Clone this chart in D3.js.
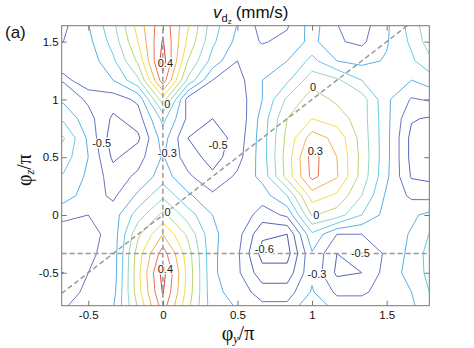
<!DOCTYPE html>
<html><head><meta charset="utf-8">
<script src="https://cdn.jsdelivr.net/npm/d3@7"></script>
<style>body{margin:0;background:#fff;} svg{display:block;}</style>
</head><body>
<svg id="chart" width="474" height="348"></svg>
<script>
// grid columns (phi_y / pi) and rows (phi_z / pi, top to bottom)
const phiY = [-0.8333,-0.6667,-0.5,-0.3333,-0.1667,0,0.1667,0.3333,0.5,0.6667,0.8333,1,1.1667,1.3333,1.5,1.6667,1.8333];
const phiZ = [1.6667,1.5,1.3333,1.1667,1,0.8333,0.6667,0.5,0.3333,0.1667,0,-0.1667,-0.3333,-0.5,-0.6667,-0.8333];
// v_dz (mm/s), one row per phiZ value
const vdz = [
 [-0.45,-0.43,-0.30,-0.12,0.15,0.37,0.12,-0.15,-0.30,-0.45,-0.42,-0.25,-0.40,-0.45,-0.32,-0.15,0.02],
 [-0.42,-0.40,-0.33,-0.16,0.10,0.41,0.08,-0.18,-0.33,-0.41,-0.37,-0.27,-0.39,-0.42,-0.31,-0.18,0.00],
 [-0.39,-0.38,-0.36,-0.22,0.02,0.45,0.00,-0.24,-0.40,-0.33,-0.30,-0.17,-0.30,-0.33,-0.29,-0.22,-0.08],
 [-0.42,-0.41,-0.38,-0.30,-0.12,0.36,-0.12,-0.40,-0.44,-0.30,-0.22,-0.04,-0.08,-0.20,-0.27,-0.30,-0.22],
 [-0.30,-0.32,-0.42,-0.45,-0.38,0.06,-0.44,-0.48,-0.46,-0.30,-0.08,0.05,-0.02,-0.05,-0.28,-0.41,-0.38],
 [-0.20,-0.22,-0.36,-0.52,-0.45,-0.17,-0.42,-0.50,-0.48,-0.26,0.00,0.10,0.05,-0.05,-0.27,-0.49,-0.52],
 [-0.04,-0.09,-0.32,-0.56,-0.52,-0.25,-0.50,-0.56,-0.46,-0.25,0.03,0.25,0.17,-0.04,-0.27,-0.53,-0.56],
 [-0.12,-0.15,-0.30,-0.52,-0.44,-0.29,-0.45,-0.54,-0.44,-0.25,0.05,0.34,0.20,-0.03,-0.27,-0.53,-0.56],
 [-0.20,-0.21,-0.32,-0.45,-0.38,-0.25,-0.38,-0.48,-0.38,-0.27,0.04,0.33,0.21,-0.04,-0.28,-0.51,-0.53],
 [-0.22,-0.25,-0.35,-0.42,-0.28,-0.12,-0.28,-0.38,-0.33,-0.35,-0.20,0.15,0.08,-0.10,-0.32,-0.42,-0.44],
 [-0.40,-0.38,-0.40,-0.35,-0.15,0.03,-0.15,-0.30,-0.32,-0.45,-0.38,0.01,-0.05,-0.20,-0.34,-0.32,-0.25],
 [-0.45,-0.44,-0.44,-0.36,-0.02,0.20,-0.02,-0.28,-0.36,-0.58,-0.60,-0.22,-0.40,-0.40,-0.36,-0.29,-0.16],
 [-0.46,-0.45,-0.42,-0.36,0.05,0.35,0.05,-0.28,-0.38,-0.64,-0.64,-0.31,-0.50,-0.50,-0.38,-0.27,-0.12],
 [-0.52,-0.50,-0.40,-0.36,0.07,0.44,0.07,-0.28,-0.38,-0.56,-0.56,-0.32,-0.52,-0.50,-0.36,-0.26,-0.14],
 [-0.45,-0.44,-0.38,-0.34,0.06,0.41,0.06,-0.27,-0.34,-0.45,-0.45,-0.29,-0.42,-0.42,-0.35,-0.30,-0.16],
 [-0.40,-0.40,-0.36,-0.30,0.00,0.33,0.02,-0.25,-0.30,-0.35,-0.35,-0.17,-0.32,-0.32,-0.33,-0.33,-0.18]
];
const levels = [-0.6,-0.5,-0.4,-0.3,-0.2,-0.1,0,0.1,0.2,0.3,0.4];
const levelColors = ["#4e5aa8","#5565b5","#6474c2","#58aee6","#66cbe0","#93d6c0","#b8d672","#f0de48","#f4b04a","#ee7055","#d8403f"];
const xTicks = [-0.5,0,0.5,1,1.5];
const yTicks = [-0.5,0,0.5,1,1.5];
const contourLabels = [
 {t:"0.4",x:0.017,y:1.319},{t:"0",x:0.03,y:0.96},{t:"-0.5",x:-0.41,y:0.626},
 {t:"-0.3",x:0.03,y:0.54},{t:"-0.5",x:0.37,y:0.606},{t:"0",x:1.007,y:1.11},
 {t:"0.3",x:1.022,y:0.554},{t:"0",x:0.032,y:0.029},{t:"0.4",x:0.017,y:-0.468},
 {t:"0",x:1.029,y:0.0},{t:"-0.6",x:0.68,y:-0.297},{t:"-0.5",x:1.324,y:-0.332},
 {t:"-0.3",x:1.033,y:-0.51}
];
const guideZ = -1/3;   // horizontal dashed line
const xDomain = [-0.678, 1.786];
const yDomain = [-0.785, 1.638];

const svg = d3.select("#chart");
const L = 61.7, R = 429.3, T = 25.7, B = 305.7;
const x = d3.scaleLinear().domain(xDomain).range([L, R]);
const y = d3.scaleLinear().domain(yDomain).range([B, T]);

const n = phiY.length, m = phiZ.length;
const gx = d3.scaleLinear().domain([0.5, n - 0.5]).range([phiY[0], phiY[n-1]]);
const gy = d3.scaleLinear().domain([0.5, m - 0.5]).range([phiZ[0], phiZ[m-1]]);
const proj = d3.geoTransform({point(px, py){ this.stream.point(x(gx(px)), y(gy(py))); }});
const path = d3.geoPath(proj);

svg.append("defs").append("clipPath").attr("id","clip")
  .append("rect").attr("x",L).attr("y",T).attr("width",R-L).attr("height",B-T);

const contours = d3.contours().size([n, m]).thresholds(levels)(vdz.flat());
const color = d3.scaleOrdinal().domain(levels).range(levelColors);

const g = svg.append("g").attr("clip-path","url(#clip)");
g.selectAll("path.c").data(contours).join("path")
  .attr("class","c").attr("d", path)
  .attr("fill","none").attr("stroke", d => color(d.value))
  .attr("stroke-width", 1).attr("stroke-linejoin","round");

// dashed guides
const dash = "5,3";
g.append("line").attr("x1",x(0)).attr("x2",x(0)).attr("y1",y(yDomain[0])).attr("y2",y(yDomain[1]))
  .attr("stroke","#9a9a9a").attr("stroke-width",1.5).attr("stroke-dasharray",dash);
g.append("line").attr("x1",x(xDomain[0])).attr("x2",x(xDomain[1])).attr("y1",y(guideZ)).attr("y2",y(guideZ))
  .attr("stroke","#9a9a9a").attr("stroke-width",1.5).attr("stroke-dasharray",dash);
g.append("line").attr("x1",x(xDomain[0])).attr("y1",y(xDomain[0])).attr("x2",x(yDomain[1])).attr("y2",y(yDomain[1]))
  .attr("stroke","#9a9a9a").attr("stroke-width",1.5).attr("stroke-dasharray",dash);

// contour labels
svg.append("g").selectAll("text").data(contourLabels).join("text")
  .attr("x", d => x(d.x)).attr("y", d => y(d.y))
  .attr("text-anchor","middle").attr("dominant-baseline","central")
  .attr("font-family","Liberation Sans, Arial, sans-serif").attr("font-size",11)
  .attr("fill","#222").attr("stroke","#fff").attr("stroke-width",2.5)
  .attr("paint-order","stroke").text(d => d.t);

// axes with inward ticks
const fmt = d => String(d);
const axStyle = sel => {
  sel.select(".domain").remove();
  sel.selectAll(".tick line").attr("stroke","#777");
  sel.selectAll(".tick text").attr("font-family","Liberation Sans, Arial, sans-serif").attr("font-size",11.5).attr("fill","#111");
};
svg.append("g").attr("transform",`translate(0,${B})`)
  .call(d3.axisBottom(x).tickValues(xTicks).tickFormat(fmt).tickSize(-5).tickPadding(5)).call(axStyle);
svg.append("g").attr("transform",`translate(0,${T})`)
  .call(d3.axisTop(x).tickValues(xTicks).tickFormat("").tickSize(-5)).call(axStyle);
svg.append("g").attr("transform",`translate(${L},0)`)
  .call(d3.axisLeft(y).tickValues(yTicks).tickFormat(fmt).tickSize(-5).tickPadding(3)).call(axStyle);
svg.append("g").attr("transform",`translate(${R},0)`)
  .call(d3.axisRight(y).tickValues(yTicks).tickFormat("").tickSize(-5)).call(axStyle);

svg.append("rect").attr("x",L).attr("y",T).attr("width",R-L).attr("height",B-T)
  .attr("fill","none").attr("stroke","#777").attr("stroke-width",1);

// title
const title = svg.append("text").attr("x",213).attr("y",17.5)
  .attr("font-family","Liberation Sans, Arial, sans-serif").attr("font-size",17).attr("fill","#111");
title.append("tspan").attr("font-style","italic").text("v");
title.append("tspan").attr("font-size",11).attr("dy",4).text("d");
title.append("tspan").attr("font-size",8).attr("dy",2.5).text("z");
title.append("tspan").attr("font-size",17).attr("dy",-6.5).attr("dx",4).text("(mm/s)");

svg.append("text").attr("x",5).attr("y",38)
  .attr("font-family","Liberation Sans, Arial, sans-serif").attr("font-size",17).attr("fill","#111").text("(a)");

// axis labels
const xl = svg.append("text").attr("x",238).attr("y",340).attr("text-anchor","middle")
  .attr("font-family","Liberation Serif, Times New Roman, serif").attr("font-size",20).attr("fill","#111");
xl.append("tspan").text("φ");
xl.append("tspan").attr("font-size",12).attr("font-style","italic").attr("dy",3).text("y");
xl.append("tspan").attr("dy",-3).text("/π");

const yl = svg.append("text").attr("transform","translate(31,170) rotate(-90)").attr("text-anchor","middle")
  .attr("font-family","Liberation Serif, Times New Roman, serif").attr("font-size",20).attr("fill","#111");
yl.append("tspan").text("φ");
yl.append("tspan").attr("font-size",12).attr("font-style","italic").attr("dy",3).text("z");
yl.append("tspan").attr("dy",-3).text("/π");
</script>
</body></html>
